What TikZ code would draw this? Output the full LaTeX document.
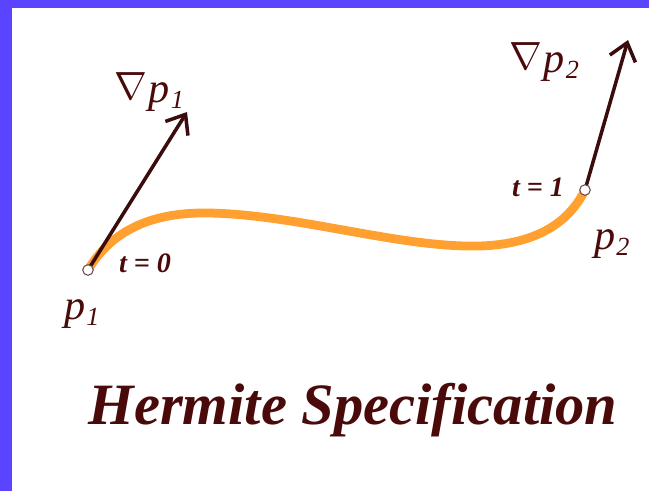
\documentclass[tikz,border=0pt]{standalone}
\usepackage{fontspec}
\setmainfont{Liberation Serif}
\usetikzlibrary{arrows.meta}
\definecolor{frameblue}{HTML}{5A44FF}
\definecolor{inkmaroon}{HTML}{4A0A0A}
\definecolor{arrowink}{HTML}{3A0C0C}
\definecolor{curveorange}{HTML}{FFA030}
\tikzset{
  endpoint/.style={circle,draw=arrowink!75,fill=white,line width=0.9pt,
                   minimum size=9pt,inner sep=0pt},
  ptlabel/.style={text=inkmaroon,inner sep=0pt,
                  font=\fontsize{36}{38}\selectfont\itshape},
  tlabel/.style={text=inkmaroon,inner sep=0pt,
                 font=\fontsize{24}{26}\selectfont\bfseries\itshape},
  titlelabel/.style={text=inkmaroon,inner sep=0pt,
                     font=\fontsize{50}{54}\selectfont\bfseries\itshape},
  tangentarr/.style={draw=arrowink,line width=3pt,
                     -{Straight Barb[length=5mm,width=8mm,line width=3pt]}},
  hermitecurve/.style={draw=curveorange,line width=7.5pt}
}
\newcommand{\pname}[1]{p\kern0.02em\raisebox{-0.3ex}{\scalebox{0.62}{#1}}}
\newcommand{\gradsym}{\raisebox{0.15ex}{\scalebox{1.35}{$\nabla$}}\kern0.05em}

\begin{document}
\begin{tikzpicture}[x=0.03cm,y=-0.03cm]
  \useasboundingbox (0,0) rectangle (649,491);

  % Frame
  \fill[frameblue] (0,0) rectangle (649,491);
  \fill[white] (12,8) rectangle (649,491);

  % End points and tangent tips
  \coordinate (p1) at (88,270);
  \coordinate (p2) at (585,190);
  \coordinate (tip1) at (187,112);
  \coordinate (tip2) at (628,40);

  % The curve
  \draw[hermitecurve] (p1) .. controls (115,225) and (160,212) .. (210,213)
    .. controls (300,215) and (400,248) .. (480,246)
    .. controls (540,244) and (570,220) .. (p2);

  % Tangent vectors
  \draw[tangentarr] (p1) -- (tip1);
  \draw[tangentarr] (p2) -- (tip2);

  \node[endpoint] (p1dot) at (p1) {};
  \node[endpoint] (p2dot) at (p2) {};

  % Labels
  \node[ptlabel] (grad1) at (149,92) {\gradsym\pname{1}};
  \node[ptlabel] (grad2) at (544,62) {\gradsym\pname{2}};
  \node[ptlabel] (lab1) at (82,314) {\pname{1}};
  \node[ptlabel] (lab2) at (612,244) {\pname{2}};
  \node[tlabel] (t0) at (145,263) {t = 0};
  \node[tlabel] (t1) at (538,187) {t = 1};

  \node[titlelabel] (title) at (353,410) {Hermite Specification};
\end{tikzpicture}
\end{document}
